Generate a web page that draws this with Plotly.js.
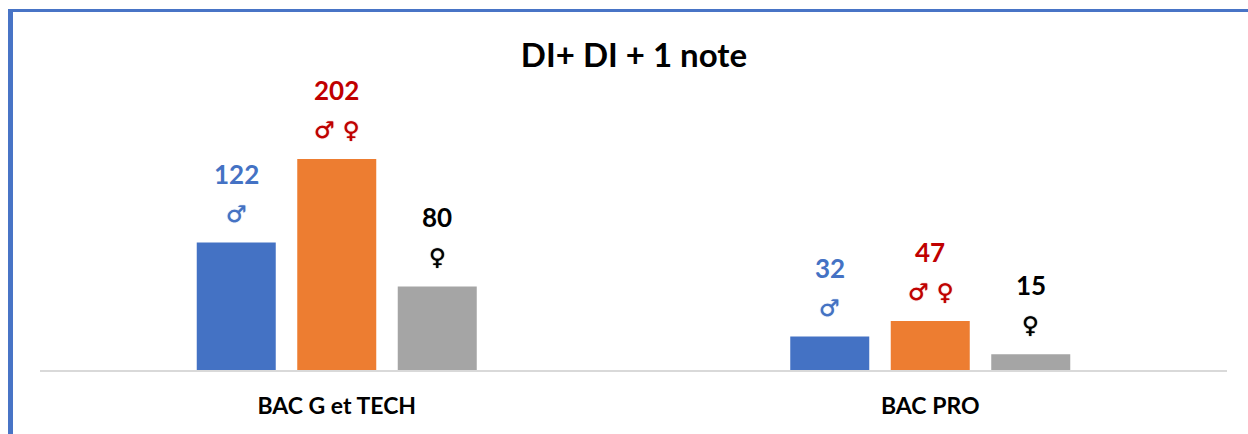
<!DOCTYPE html>
<html>
<head>
<meta charset="utf-8">
<script src="https://cdn.plot.ly/plotly-3.0.1.min.js"></script>
<style>
html,body{margin:0;padding:0;background:#fff;width:1248px;height:434px;overflow:hidden}
#frame{position:absolute;left:8px;top:9px;width:1240px;height:425px;box-sizing:border-box;border-left:5px solid #4874c6;border-top:3px solid #4874c6}
#chart{position:absolute;left:0;top:0;width:1248px;height:434px}
</style>
</head>
<body>
<div id="frame"></div>
<div id="chart"></div>
<script>
const categories = ["BAC G et TECH", "BAC PRO"];
const hommes = [122, 32];
const ensemble = [202, 47];
const femmes = [80, 15];
const seriesNames = ["Hommes", "Ensemble", "Femmes"];
const barColors = ["#4472C4", "#ED7D31", "#A5A5A5"];
const labelColors = ["#4472C4", "#C00000", "#000000"];
const symbols = ["♂", "♂ ♀", "♀"];
const titleText = "DI+ DI + 1 note";

const FONT = "Lato, Carlito, sans-serif";
const allSeries = [hommes, ensemble, femmes];
const groupOffset = 100.5 / 593.5;

const traces = allSeries.map((vals, i) => ({
  type: "bar",
  name: seriesNames[i],
  x: categories,
  y: vals,
  marker: {color: barColors[i]},
  hovertemplate: "%{x}: %{y}<extra>" + seriesNames[i] + "</extra>"
}));

const annotations = [];
allSeries.forEach((vals, i) => {
  vals.forEach((v, c) => {
    const x = c + (i - 1) * groupOffset;
    annotations.push({
      x: x, y: v, xref: "x", yref: "y", text: String(v), showarrow: false,
      yanchor: "middle", xanchor: "center", yshift: 69,
      font: {family: FONT, size: 26, color: labelColors[i], weight: 700}
    });
    annotations.push({
      x: x, y: v, xref: "x", yref: "y", text: symbols[i], showarrow: false,
      yanchor: "middle", xanchor: "center", yshift: 29,
      font: {family: "DejaVu Sans", size: 23, color: labelColors[i], weight: 700,
             shadow: "0 0 1px " + labelColors[i]}
    });
  });
});

const layout = {
  width: 1248, height: 434,
  margin: {l: 40, r: 21, t: 30, b: 64, pad: 0},
  paper_bgcolor: "rgba(0,0,0,0)",
  plot_bgcolor: "rgba(0,0,0,0)",
  showlegend: false,
  barmode: "group",
  bargap: 0.492,
  bargroupgap: 0.214,
  title: {
    text: titleText, x: 634 / 1248, xref: "container", xanchor: "center",
    y: 1 - 55 / 434, yref: "container", yanchor: "middle",
    font: {family: FONT, size: 33, color: "#000000", weight: 700}
  },
  xaxis: {
    type: "category",
    showline: true, linecolor: "#D9D9D9", linewidth: 2,
    showgrid: false, zeroline: false, ticks: "",
    tickfont: {family: FONT, size: 23, color: "#000000", weight: 700},
    ticklabelstandoff: 14
  },
  yaxis: {
    range: [0, 340 / 1.045], visible: false, showgrid: false, zeroline: false, fixedrange: true
  },
  annotations: annotations
};

Plotly.newPlot("chart", traces, layout, {displayModeBar: false, responsive: false});
</script>
</body>
</html>
